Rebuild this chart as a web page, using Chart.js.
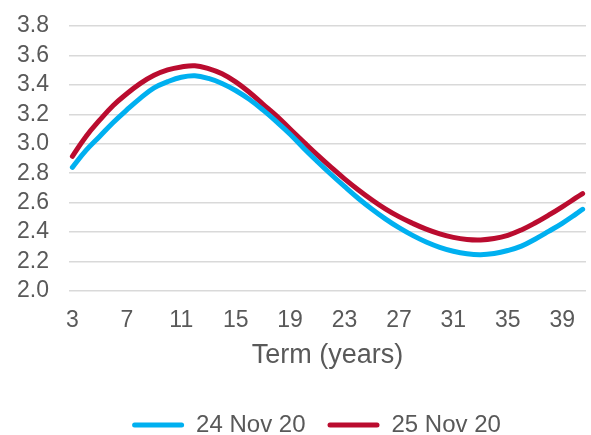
<!DOCTYPE html>
<html>
<head>
<meta charset="utf-8">
<script src="https://cdn.jsdelivr.net/npm/chart.js@4.4.1/dist/chart.umd.min.js"></script>
<style>
  html, body { margin: 0; padding: 0; background: #ffffff; }
  #wrap { position: relative; width: 591px; height: 435px; }
</style>
</head>
<body>
<div id="wrap"><canvas id="curve"></canvas></div>
<script>
// Term in years for each point of the curves
const terms = [3, 4, 5, 6, 7, 8, 9, 10, 11, 12, 13, 14, 15, 16, 17, 18, 19, 20, 21, 22,
               23, 24, 25, 26, 27, 28, 29, 30, 31, 32, 33, 34, 35, 36, 37, 38, 39, 40, 40.5];

// Yield curve, 24 Nov 20 (%)
const curve24Nov = [2.84, 2.955, 3.05, 3.145, 3.23, 3.31, 3.38, 3.422, 3.452, 3.462,
                    3.444, 3.41, 3.362, 3.302, 3.23, 3.15, 3.065, 2.97, 2.88, 2.793,
                    2.71, 2.63, 2.557, 2.49, 2.43, 2.378, 2.333, 2.297, 2.27, 2.253,
                    2.247, 2.255, 2.275, 2.305, 2.352, 2.405, 2.46, 2.522, 2.555];

// Yield curve, 25 Nov 20 (%)
const curve25Nov = [2.915, 3.05, 3.16, 3.26, 3.34, 3.41, 3.465, 3.502, 3.522, 3.53,
                    3.51, 3.475, 3.42, 3.35, 3.27, 3.19, 3.10, 3.012, 2.925, 2.842,
                    2.762, 2.688, 2.62, 2.558, 2.505, 2.46, 2.42, 2.388, 2.364, 2.35,
                    2.347, 2.356, 2.378, 2.415, 2.462, 2.515, 2.572, 2.632, 2.662];

// Labelled terms on the horizontal axis
const termTicks = [3, 7, 11, 15, 19, 23, 27, 31, 35, 39];

const seriesNames = ['24 Nov 20', '25 Nov 20'];
const seriesColors = ['#00B0F0', '#BA0C2F'];

const toPoints = vals => vals.map((v, i) => ({ x: terms[i], y: v }));

const FONT = "'Liberation Sans', Arial, sans-serif";
const TEXT = '#595959';
const LEGEND_FONT = 24;
const LEGEND_PAD = 22;

// Nudges the legend row to the right of the canvas centre
const legendShift = {
  id: 'legendShift',
  afterLayout(chart) {
    const lg = chart.legend;
    if (lg) { lg.left += 21; lg.right += 21; }
  }
};

new Chart(document.getElementById('curve'), {
  type: 'line',
  data: {
    datasets: [
      { label: seriesNames[0], data: toPoints(curve24Nov), borderColor: seriesColors[0],
        backgroundColor: seriesColors[0], borderWidth: 5, pointRadius: 0,
        tension: 0.4, borderCapStyle: 'round', borderJoinStyle: 'round' },
      { label: seriesNames[1], data: toPoints(curve25Nov), borderColor: seriesColors[1],
        backgroundColor: seriesColors[1], borderWidth: 5, pointRadius: 0,
        tension: 0.4, borderCapStyle: 'round', borderJoinStyle: 'round' }
    ]
  },
  plugins: [legendShift],
  options: {
    responsive: true,
    maintainAspectRatio: false,
    animation: false,
    layout: { padding: { top: 26, right: 0, bottom: 0, left: 0 } },
    plugins: {
      tooltip: { enabled: false },
      legend: {
        position: 'bottom',
        maxHeight: 44,
        labels: {
          font: { family: FONT, size: LEGEND_FONT },
          color: TEXT,
          boxWidth: 52,
          boxHeight: 5,
          padding: LEGEND_PAD,
          useBorderRadius: true,
          borderRadius: 2.5,
          generateLabels: chart => chart.data.datasets.map((ds, i) => ({
            text: ds.label,
            fillStyle: ds.borderColor,
            strokeStyle: ds.borderColor,
            lineWidth: 0,
            borderRadius: 2.5,
            fontColor: TEXT,
            datasetIndex: i,
            hidden: false
          }))
        }
      }
    },
    scales: {
      x: {
        type: 'linear',
        min: 2.75,
        max: 40.75,
        afterBuildTicks: scale => { scale.ticks = termTicks.map(v => ({ value: v })); },
        afterFit: scale => { scale.height = 100; },
        grid: { display: false, drawTicks: false },
        border: { display: false },
        ticks: { font: { family: FONT, size: 23 }, color: TEXT, padding: 16, autoSkip: false, maxRotation: 0 },
        title: { display: true, text: 'Term (years)', font: { family: FONT, size: 27 }, color: TEXT,
                 padding: { top: 0, bottom: 19 } }
      },
      y: {
        min: 2.0,
        max: 3.8,
        ticks: { stepSize: 0.2, autoSkip: false, font: { family: FONT, size: 23 }, color: TEXT, padding: 20,
                 callback: v => Number(v).toFixed(1) },
        grid: { color: '#D9D9D9', lineWidth: 1.5, drawTicks: false },
        border: { display: false },
        afterFit: scale => { scale.width = 69; scale.paddingTop = 0; scale.paddingBottom = 0; }
      }
    }
  }
});
</script>
</body>
</html>
